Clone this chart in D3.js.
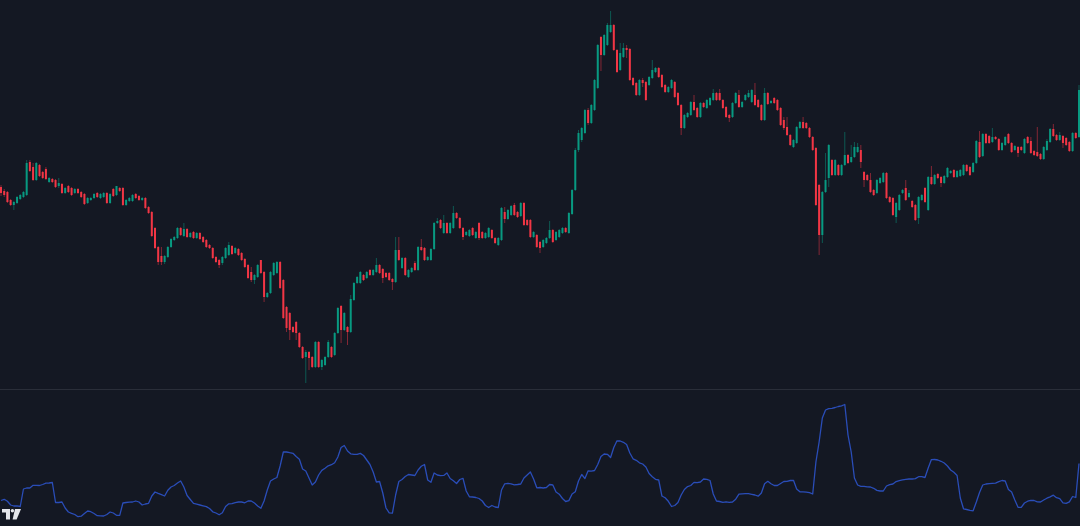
<!DOCTYPE html>
<html>
<head>
<meta charset="utf-8">
<script src="https://cdn.jsdelivr.net/npm/d3@7"></script>
<style>
  html, body { margin: 0; padding: 0; background: #141823; overflow: hidden; }
  svg { display: block; }
</style>
</head>
<body>
<script>
// price bars: [open, high, low, close]
const ohlc = [
  [213,215,204,207],[209,211,203,205],[208,209,197,198],[200,201,194,195],[195,199,190,198],[197,204,196,203],
  [201,206,200,205],[203,209,202,208],[205,240,204,237],[238,240,228,229],[233,237,219,220],[220,238,219,237],
  [235,236,223,224],[228,229,221,222],[231,233,220,221],[218,223,217,222],[221,222,217,218],[220,221,212,213],
  [214,222,212,217],[216,217,206,207],[207,213,206,212],[214,215,207,208],[212,213,204,205],[207,212,206,211],
  [211,212,206,207],[208,209,202,203],[206,207,195,196],[197,203,196,202],[200,203,199,202],[202,207,201,206],
  [207,208,202,203],[202,207,201,206],[203,208,202,207],[207,208,196,197],[197,207,196,206],[211,212,203,204],
  [205,214,204,214],[212,213,208,209],[212,213,194,195],[195,201,194,200],[199,203,198,202],[199,206,198,205],
  [206,207,201,202],[204,205,199,200],[200,203,199,202],[202,203,191,192],[193,194,186,187],[188,189,163,164],
  [172,173,151,152],[153,154,135,138],[144,153,135,138],[138,145,136,144],[143,154,142,153],[153,162,152,161],
  [160,164,159,163],[162,173,161,172],
  [172,173,164,165],[164,177,163,171],[171,172,162,163],[163,168,162,167],[168,169,161,162],[162,168,161,167],
  [167,168,160,161],[163,164,157,158],[160,161,152,153],[155,156,151,152],[152,153,141,142],[143,144,137,138],
  [140,141,132,135],[137,144,135,143],[142,153,141,152],[145,158,144,155],[154,155,145,146],[147,153,146,152],
  [151,152,144,145],[147,148,139,140],[141,142,132,133],[135,136,121,122],[128,133,118,120],[120,126,116,125],
  [123,136,122,135],[140,140,126,127],[128,129,98,103],[103,108,102,107],[107,129,106,128],[125,138,124,137],
  [127,139,126,138],[138,139,111,112],[120,121,81,82],[93,94,68,72],[87,88,60,70],[73,74,67,68],
  [78,79,60,67],[67,68,52,53],[53,54,41,42],[43,50,17,48],[48,49,30,42],[43,44,32,33],
  [33,59,32,58],[58,59,32,33],[33,41,30,40],[35,44,34,43],[43,60,42,58],
  [53,54,42,43],[45,68,44,67],[67,93,66,92],[94,95,57,70],[70,88,69,87],[73,74,55,68],
  [68,105,67,101],[100,118,99,117],[117,124,116,123],[117,129,116,128],[125,126,119,120],[122,129,121,128],
  [130,131,124,125],[125,131,124,130],[128,142,127,135],[135,136,126,127],[131,132,117,122],[127,128,122,123],
  [127,128,119,120],[121,122,110,118],[118,163,117,150],[150,163,139,140],[132,143,131,142],[142,143,124,125],
  [123,131,122,130],[128,133,127,132],[137,139,129,130],[130,154,129,153],[153,161,149,150],[152,153,139,140],
  [140,144,139,143],[140,152,139,151],[151,178,150,177],[177,182,176,179],[180,181,171,172],[167,185,166,177],
  [177,178,166,167],[167,178,166,177],[172,194,171,187],[187,188,181,182],[182,183,171,172],[172,173,160,163],
  [165,169,164,168],[164,171,163,170],[172,173,164,165],[162,169,161,168],
  [177,178,160,162],[168,169,161,162],[162,168,161,167],[163,173,162,172],[170,171,161,162],[162,163,156,157],
  [155,163,154,162],[160,193,159,192],[188,193,177,181],[181,191,180,190],[185,195,184,194],[195,197,184,185],
  [188,189,182,183],[184,198,183,197],[197,198,174,175],[180,181,174,175],[180,181,162,163],[163,169,162,168],
  [165,166,152,153],[158,159,147,152],[153,161,152,160],[157,163,156,162],[162,179,161,170],[170,171,157,158],
  [160,169,159,168],[163,171,162,170],[167,173,166,172],[172,173,167,168],[167,188,166,187],[186,211,185,210],
  [210,252,209,250],[250,270,248,267],[260,273,258,272],[267,291,266,290],[290,292,275,277],[277,296,276,295],
  [290,321,289,320],[312,356,311,355],[363,364,329,345],[345,366,344,365],[355,377,354,375],[368,389,367,375],
  [375,376,349,350],[350,351,327,328],[330,357,329,347],[343,357,342,352],[352,355,342,350],[351,352,319,320],
  [322,323,314,315],[317,318,304,305],[305,321,304,320],[320,322,313,317],[318,319,299,300],[315,324,314,323],
  [322,340,321,330],[328,333,327,332],[332,333,322,323],[325,326,312,313],[315,316,307,308],[308,314,307,313],
  [312,321,311,320],[318,319,302,303],[307,308,294,295],[295,296,265,272],[272,286,271,285],[283,288,282,287],
  [285,299,284,298],[298,305,289,290],[292,293,282,283],[283,298,282,297],[297,298,292,293],[292,301,291,300],
  [295,303,294,302],[300,311,299,307],[307,308,299,300],[307,311,299,300],[300,301,291,292],[293,294,282,283],
  [285,286,278,282],[283,298,282,297],[297,308,296,307],
  [305,310,292,293],[293,299,292,298],[300,306,299,305],[303,310,302,307],[298,311,297,310],[305,317,294,295],
  [300,301,292,293],[295,296,279,280],[280,312,279,307],[307,308,295,296],[297,300,296,299],[302,303,296,297],
  [300,301,289,290],[292,293,274,275],[280,283,270,272],[273,283,264,265],[265,266,254,255],[253,261,252,260],
  [257,274,256,273],[272,279,271,278],[278,283,271,272],[277,278,271,272],[272,273,262,263],[263,264,249,250],
  [252,253,194,195],[215,216,145,165],[165,209,157,208],[208,247,207,220],[222,256,213,255],[240,241,224,225],
  [225,241,224,240],[235,236,224,225],[225,236,224,235],[235,268,234,245],[245,246,236,237],[238,255,237,243],
  [243,258,242,253],[248,257,247,253],[250,255,232,238],[228,229,213,220],[225,226,219,220],[220,227,207,208],
  [210,211,204,205],[207,221,206,220],[217,223,216,222],[218,228,217,227],[227,228,201,202],[203,204,197,198],
  [202,203,184,185],[183,198,177,197],
  [190,206,189,205],[207,211,206,210],[212,220,199,200],[203,210,202,207],[199,200,192,193],[195,196,179,180],
  [182,204,176,203],[200,206,199,205],[212,213,197,198],[190,224,189,223],[223,234,215,216],[216,226,215,225],
  [226,227,221,222],[223,224,213,217],[217,225,216,224],[223,233,222,232],[227,230,226,229],[230,231,222,223],
  [223,230,222,229],[224,231,223,230],[225,236,224,235],[235,236,228,229],[233,234,224,225],[228,238,227,237],
  [237,260,236,259],[258,269,242,243],[244,267,243,266],[266,267,256,257],[264,265,256,257],[258,272,257,263],
  [263,264,260,261],[261,262,249,250],[250,258,249,257],[255,264,254,263],[266,267,256,257],[257,258,247,248],
  [250,255,249,254],[253,254,243,247],[253,254,249,250],[247,262,246,261],[263,264,256,257],[259,263,246,247],
  [249,250,244,245],[248,273,243,244],[246,247,240,241],[241,254,240,253],[250,261,249,259],[258,272,257,271],
  [271,276,263,264],[265,266,259,260],[260,268,259,265],[264,265,252,257],[262,263,254,255],[258,259,248,249],
  [249,268,248,267],[267,268,261,262],[263,315,262,310]
];

// lower pane indicator, one value per bar
const atr = [
  19.5,20.7,18.7,15,14,14.2,13.5,31,32,32,34.7,34.7,34.5,35.5,36.8,37,37.5,17.5,17.5,18,
  12,8,6.7,5.5,3.3,3.8,6.5,9,8.3,6.5,4.3,4.2,4,5.5,8,7,4.7,4.7,17,17.5,
  17.8,18,19,18,15,16,16.7,24,28,26.6,25.3,24,29.7,33,34.5,37,39,33,24.5,20.5,
  16.6,15.8,15,14.2,13.4,11.5,8.2,7,5.2,7.3,13.5,16.2,16.3,17.3,18,18,17.2,19,19,17,
  14,11.7,19,30,39,41,42.5,54,68,68,67.3,66.7,63.5,60.8,51,49,42,35,38,45,
  49.6,51.7,54.2,55.3,57.3,63,72.5,74.5,69,66.2,65.7,65.7,66.6,64.5,60,55.5,48,38,38.5,27,
  12,7.2,6.8,25,38.5,40.5,43.5,45.5,45,44.5,50,53.7,55.5,40,37.7,47,45,44.3,44.6,47,
  41.5,39.3,36.5,40.5,41.7,29,23.2,23,22.5,21.5,19,14.5,12.5,14.5,13,12.5,30,36.2,36.7,36.2,
  35.2,35.5,36,42,45,48,41,32.2,32.5,32,32.5,35.5,35,28,25.8,21.5,18.5,19.4,26,28.3,
  39,45.5,41.5,49.2,48.8,49.5,55.5,63.5,66,65.7,62.5,72.5,79.2,79,77.7,75.5,67,61.2,59.7,57.2,
  56,53,46.5,43.2,40.7,40,24,22.3,18.7,13.5,14.5,17.5,25,30.5,33.4,34.5,37.6,37.3,38,41,
  40.7,39.5,26,19,18.5,17.7,18.2,17.7,18,20.8,25.8,26.2,26.3,26.3,25.7,25,23.8,27,36.3,38.7,
  36.2,34.5,34.5,36.5,38.5,38.7,39.5,39.7,31,28.2,28.2,27.8,27.3,26,58,78,102,110,111.3,111.7,
  112.5,113.5,114.2,115.5,85,68,42,35,33.7,33.7,33.2,33,31.7,29.6,29,29,34,35.4,36,38.4,
  39.4,40.1,40.7,41,41,41.4,43.3,43.3,42.5,52,60.4,60.5,60,58.7,57,54,50,47.7,44.5,22,
  11.2,10.5,9.7,9.2,18,27.5,35,36,36.4,36.7,36.8,38.3,39.5,39,30.5,28,20,12.7,12.7,17,
  18.8,19.7,19.5,18.2,18,20,21.8,23.2,24.8,22.3,21.4,17.2,16.7,18.2,23.5,22.5,56.5
];

const upColor = "#089981";
const downColor = "#f23645";

const width = 1080;
const height = 526;

const svg = d3.select("body").append("svg")
  .attr("width", width)
  .attr("height", height);

svg.append("rect")
  .attr("width", width)
  .attr("height", height)
  .attr("fill", "#141823");

const x = d3.scaleLinear()
  .domain([0, ohlc.length - 1])
  .range([1, 1079]);

const yPrice = d3.scaleLinear()
  .domain([11, 400])
  .range([389, 0]);

const yAtr = d3.scaleLinear()
  .domain([0, 120])
  .range([520, 400]);

// pane separator
svg.append("line")
  .attr("x1", 0)
  .attr("x2", width)
  .attr("y1", 389.5)
  .attr("y2", 389.5)
  .attr("stroke", "#2a2e39")
  .attr("stroke-width", 1);

const bars = svg.append("g")
  .selectAll("g")
  .data(ohlc)
  .enter()
  .append("g");

// wicks
bars.append("line")
  .attr("x1", (d, i) => x(i))
  .attr("x2", (d, i) => x(i))
  .attr("y1", d => yPrice(d[1]))
  .attr("y2", d => yPrice(d[2]))
  .attr("stroke", d => d[3] >= d[0] ? upColor : downColor)
  .attr("stroke-opacity", 0.5)
  .attr("stroke-width", 1);

// bodies
bars.append("rect")
  .attr("x", (d, i) => x(i) - 1)
  .attr("width", 2)
  .attr("y", d => yPrice(Math.max(d[0], d[3])))
  .attr("height", d => Math.max(1, Math.abs(yPrice(d[0]) - yPrice(d[3]))))
  .attr("fill", d => d[3] >= d[0] ? upColor : downColor);

// indicator line
svg.append("path")
  .datum(atr)
  .attr("fill", "none")
  .attr("stroke", "#2a4db8")
  .attr("stroke-width", 1.3)
  .attr("stroke-linejoin", "round")
  .attr("d", d3.line()
    .x((d, i) => x(i))
    .y(d => yAtr(d)));

// watermark logo, bottom left
const logo = svg.append("g").attr("fill", "#e4e6eb");
logo.append("path").attr("d", "M2,509 H10 V519.5 H6 V512.5 H2 Z");
logo.append("circle").attr("cx", 12.4).attr("cy", 510.8).attr("r", 1.7);
logo.append("path").attr("d", "M15,509 H21 L16.6,519.5 H12.6 Z");
</script>
</body>
</html>
